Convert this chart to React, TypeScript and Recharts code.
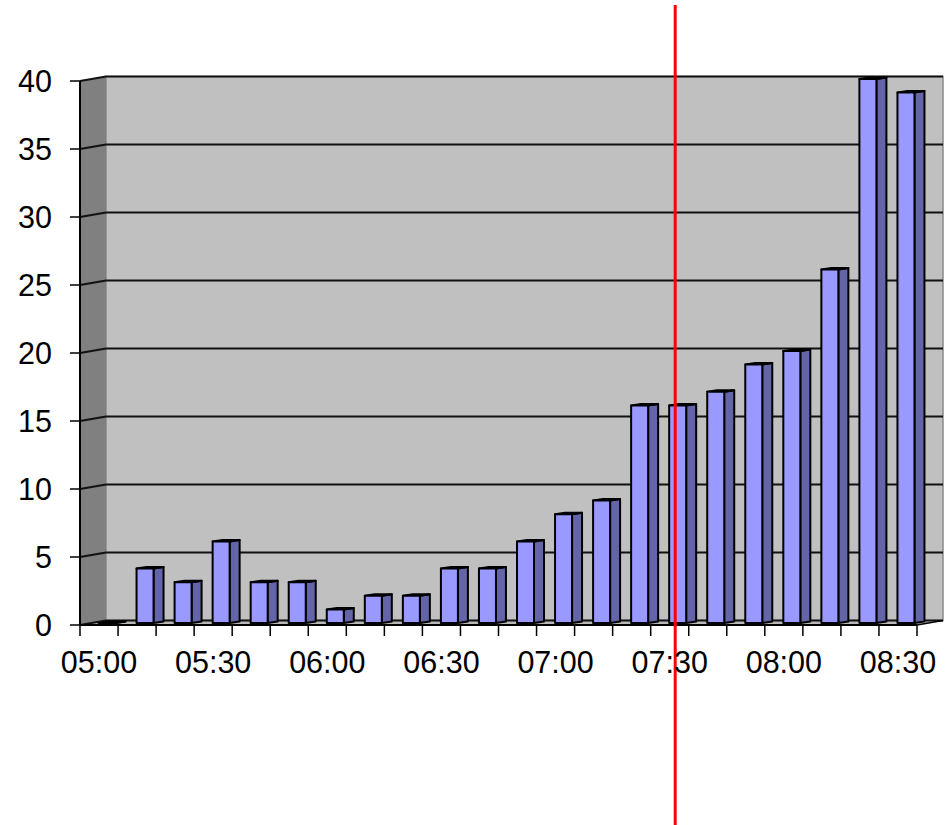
import { BarChart, Bar, XAxis, YAxis, ReferenceArea, ReferenceLine } from 'recharts';

const times = [
  '05:00', '05:10', '05:20', '05:30', '05:40', '05:50',
  '06:00', '06:10', '06:20', '06:30', '06:40', '06:50',
  '07:00', '07:10', '07:20', '07:30', '07:40', '07:50',
  '08:00', '08:10', '08:20', '08:30',
];
const counts = [0, 4, 3, 6, 3, 3, 1, 2, 2, 4, 4, 6, 8, 9, 16, 16, 17, 19, 20, 26, 40, 39];
const yTicks = [0, 5, 10, 15, 20, 25, 30, 35, 40];
const markerTime = '07:30';

const data = times.map((time, i) => ({ time, count: counts[i] }));

const FONT = '"Liberation Sans", Arial, sans-serif';
const DEPTH_X = 26;
const DEPTH_Y = -4.5;

// back wall, left wall, floor and gridlines of the 3D box
const Walls = (props: any) => {
  const { x, y, width, height } = props;
  const yOf = (v: number) => y + height * (1 - v / 40);
  const bx = x + DEPTH_X;
  return (
    <g>
      <rect x={bx} y={y + DEPTH_Y} width={width} height={height} fill="#c0c0c0" stroke="#8a8a8a" strokeWidth={1.5} />
      <polygon
        points={`${x},${y} ${bx},${y + DEPTH_Y} ${bx},${y + height + DEPTH_Y} ${x},${y + height}`}
        fill="#808080"
      />
      <polygon
        points={`${x},${y + height} ${bx},${y + height + DEPTH_Y} ${bx + width},${y + height + DEPTH_Y} ${x + width},${y + height}`}
        fill="#b8b8b8"
      />
      {yTicks.map((v) => {
        const yy = yOf(v);
        return (
          <polyline
            key={v}
            points={`${x},${yy} ${bx},${yy + DEPTH_Y} ${bx + width},${yy + DEPTH_Y}`}
            fill="none"
            stroke="#111"
            strokeWidth={2.2}
          />
        );
      })}
      <line x1={x} y1={y + height} x2={x + width} y2={y + height} stroke="#000" strokeWidth={2} />
      <line x1={x + width} y1={y + height} x2={bx + width} y2={y + height + DEPTH_Y} stroke="#000" strokeWidth={1.5} />
    </g>
  );
};

const Column3D = (props: any) => {
  const { x, y, width, height } = props;
  const fx = x + 7.5;
  const top = y - 2;
  const bottom = y + height - 2;
  const side = 10;
  const rise = 1.5;
  return (
    <g stroke="#000" strokeWidth={2} strokeLinejoin="round">
      <polygon
        points={`${fx + width},${top} ${fx + width + side},${top - rise} ${fx + width + side},${bottom - rise} ${fx + width},${bottom}`}
        fill="#6464a8"
      />
      <polygon
        points={`${fx},${top} ${fx + side},${top - rise} ${fx + width + side},${top - rise} ${fx + width},${top}`}
        fill="#7878c0"
      />
      <rect x={fx} y={top} width={width} height={Math.max(bottom - top, 0)} fill="#9999ff" />
    </g>
  );
};

const TimeTick = (props: any) => {
  const { x, y, payload, index, width, visibleTicksCount } = props;
  const band = width / visibleTicksCount;
  const left = x - band / 2;
  return (
    <g>
      <line x1={left} y1={y} x2={left} y2={y + 11} stroke="#000" strokeWidth={1.5} />
      {index === visibleTicksCount - 1 && (
        <line x1={left + band} y1={y} x2={left + band} y2={y + 11} stroke="#000" strokeWidth={1.5} />
      )}
      {index % 3 === 0 && (
        <text x={x} y={y + 48} textAnchor="middle" fontFamily={FONT} fontSize={30.5} fill="#000">
          {payload.value}
        </text>
      )}
    </g>
  );
};

const MarkerLine = (props: any) => {
  const { x1 } = props;
  const mx = x1 + 5.5;
  return <line x1={mx} y1={5} x2={mx} y2={825} stroke="#ff0000" strokeWidth={3} />;
};

export default function App() {
  return (
    <div style={{ position: 'absolute', left: 0, top: 0, background: '#fff' }}>
      <BarChart width={951} height={825} data={data} margin={{ top: 81, right: 34, bottom: 140, left: 0 }}>
        <ReferenceArea y1={0} y2={40} shape={Walls} ifOverflow="visible" />
        <XAxis
          dataKey="time"
          interval={0}
          height={60}
          axisLine={false}
          tickLine={false}
          tickSize={0}
          tickMargin={0}
          tick={TimeTick}
        />
        <YAxis
          domain={[0, 40]}
          ticks={yTicks}
          width={80}
          axisLine={{ stroke: '#000', strokeWidth: 2 }}
          tickLine={{ stroke: '#000', strokeWidth: 1.5 }}
          tickSize={10}
          tickMargin={18}
          tick={{ fontSize: 30.5, fontFamily: FONT, fill: '#000' }}
        />
        <Bar dataKey="count" barSize={17} shape={Column3D} isAnimationActive={false} />
        <ReferenceLine x={markerTime} shape={MarkerLine} ifOverflow="visible" />
      </BarChart>
    </div>
  );
}
